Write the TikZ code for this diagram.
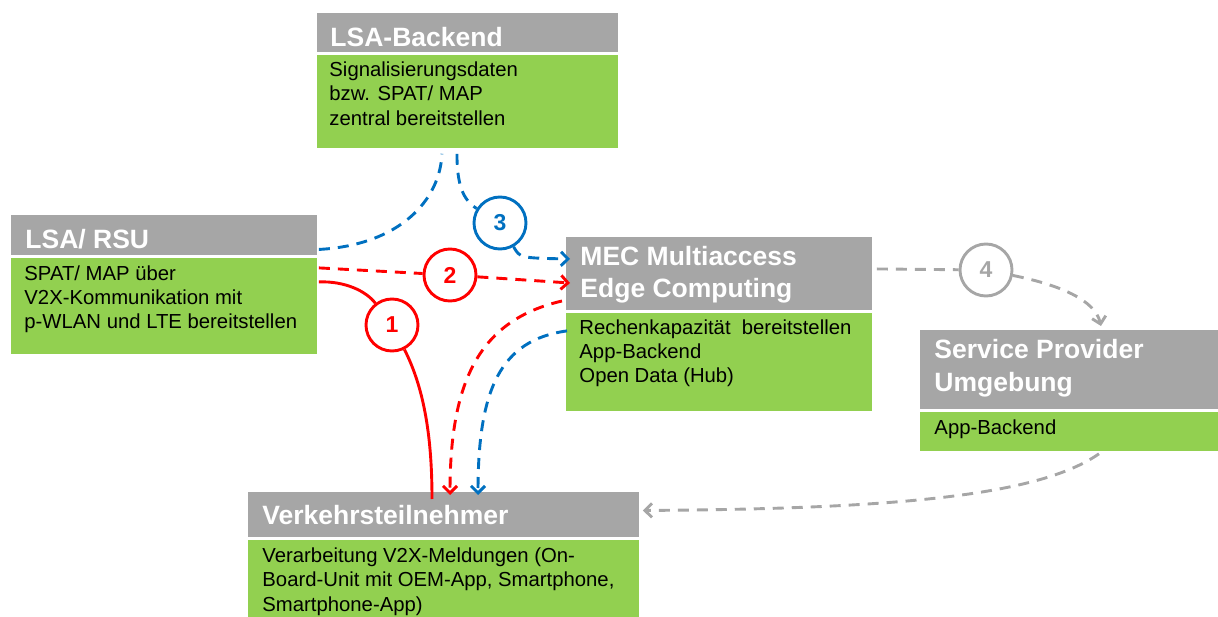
\documentclass[tikz,border=0pt]{standalone}
\usepackage{fontspec}
\setmainfont{Liberation Sans}
\usetikzlibrary{arrows.meta}
\definecolor{hdgray}{HTML}{A6A6A6}
\definecolor{bdgreen}{HTML}{92D050}
\definecolor{lnred}{HTML}{FF0000}
\definecolor{lnblue}{HTML}{0070C0}

\begin{document}
\begin{tikzpicture}[x=1pt,y=-1pt,>={Straight Barb[length=7pt,width=14pt]}, line width=2.9pt]
                \tikzstyle{head} = [fill=hdgray, inner sep=0pt, anchor=north west]
                \tikzstyle{body} = [fill=bdgreen, inner sep=0pt, anchor=north west]
                \tikzstyle{htxt} = [text=white, font=\bfseries\fontsize{26.5}{32.3}\selectfont, anchor=north west, inner sep=0pt, align=left, execute at begin node=\strut]
                \tikzstyle{btxt} = [font=\fontsize{20.3}{24.3}\selectfont, anchor=north west, inner sep=0pt, align=left, execute at begin node=\strut]
                \tikzstyle{num} = [circle, draw, fill=white, minimum size=52pt, inner sep=0pt, font=\bfseries\fontsize{23}{26}\selectfont]
                \tikzstyle{link} = [dash pattern=on 11pt off 8pt]

                \useasboundingbox (0,0) rectangle (1218,617);

                % LSA-Backend
                \node[head, minimum width=301pt, minimum height=39pt] (bkH) at (316,12) {};
                \node[body, minimum width=301pt, minimum height=93pt] (bkB) at (bkH.south west) {};
                \node[htxt] (bkT) at (329,22.4) {LSA-Backend};
                \node[btxt] (bkD) at (328,60.3) {Signalisierungsdaten\\bzw. SPAT/ MAP\\zentral bereitstellen};

                % LSA/ RSU
                \node[head, minimum width=306pt, minimum height=40pt] (rsuH) at (10,214) {};
                \node[body, minimum width=306pt, minimum height=96pt] (rsuB) at (rsuH.south west) {};
                \node[htxt] (rsuT) at (24,224.1) {LSA/ RSU};
                \node[btxt] (rsuD) at (23,264) {SPAT/ MAP über\\V2X-Kommunikation mit\\p-WLAN und LTE bereitstellen};

                % MEC
                \node[head, minimum width=306pt, minimum height=73pt] (mecH) at (565,236) {};
                \node[body, minimum width=306pt, minimum height=98pt] (mecB) at (mecH.south west) {};
                \node[htxt] (mecT) at (579,244.7) {MEC Multiaccess\\Edge Computing};
                \node[btxt] (mecD) at (578,318) {Rechenkapazität\ \ bereitstellen\\App-Backend\\Open Data (Hub)};

                % Service Provider
                \node[head, minimum width=299pt, minimum height=79pt] (spH) at (919,329) {};
                \node[body, minimum width=299pt, minimum height=39pt] (spB) at (spH.south west) {};
                \node[htxt] (spT) at (933,338.1) {Service Provider\\Umgebung};
                \node[btxt] (spD) at (933,415.7) {App-Backend};

                % Verkehrsteilnehmer
                \node[head, minimum width=391pt, minimum height=45pt] (vtH) at (247,491) {};
                \node[body, minimum width=391pt, minimum height=126pt] (vtB) at (vtH.south west) {};
                \node[htxt] (vtT) at (261,500.7) {Verkehrsteilnehmer};
                \node[btxt] (vtD) at (261,546.3) {Verarbeitung V2X-Meldungen (On-\\Board-Unit mit OEM-App, Smartphone,\\Smartphone-App)};

                % Nummern
                \node[num, draw=lnred, text=lnred] (c1) at (392,325) {1};
                \node[num, draw=lnred, text=lnred] (c2) at (450,275) {2};
                \node[num, draw=lnblue, text=lnblue] (c3) at (500,223) {3};
                \node[num, draw=hdgray, text=hdgray] (c4) at (986,270) {4};

                % Weg 1 (rot, direkt)
                \draw[lnred] ([yshift=-25pt]rsuB.north east) .. controls (345,281) and (366,291) .. (c1);
                \draw[lnred] (c1) .. controls (425,390) and (432,440) .. ([xshift=185pt,yshift=-8pt]vtH.north west);

                % Weg 2 (rot, über MEC)
                \draw[lnred, link] ([yshift=-11pt]rsuB.north east) -- (c2);
                \draw[lnred, link, ->] (c2) -- ([xshift=5pt,yshift=-47pt]mecH.north west);
                \draw[lnred, link, ->] ([xshift=-3pt,yshift=-65pt]mecH.north west) .. controls (480,320) and (450,380) .. ([xshift=203pt,yshift=-4pt]vtH.north west);

                % Weg 3 (blau, über Backend)
                \draw[lnblue, link] ([yshift=-14pt]rsuH.east) .. controls (400,245) and (440,200) .. ([xshift=-26pt,yshift=-4pt]bkB.south);
                \draw[lnblue, link] ([xshift=-11pt,yshift=-4pt]bkB.south) .. controls (457,185) and (463,200) .. (c3);
                \draw[lnblue, link, ->] (c3) .. controls (520,258) .. ([xshift=5pt,yshift=-23pt]mecH.north west);
                \draw[lnblue, link, ->] ([xshift=2pt,yshift=-19pt]mecB.north west) .. controls (500,340) and (478,390) .. ([xshift=231pt,yshift=-4pt]vtH.north west);

                % Weg 4 (grau, Service Provider)
                \draw[hdgray, link] ([xshift=3pt,yshift=5pt]mecH.east) -- (c4);
                \draw[hdgray, link, ->] (c4) .. controls (1060,285) and (1095,300) .. ([xshift=31pt,yshift=3pt]spH.north);
                \draw[hdgray, link, ->] ([xshift=29pt,yshift=-1pt]spB.south) .. controls (1040,495) and (900,509) .. ([xshift=2pt,yshift=4.5pt]vtH.east);
            \end{tikzpicture}
\end{document}
